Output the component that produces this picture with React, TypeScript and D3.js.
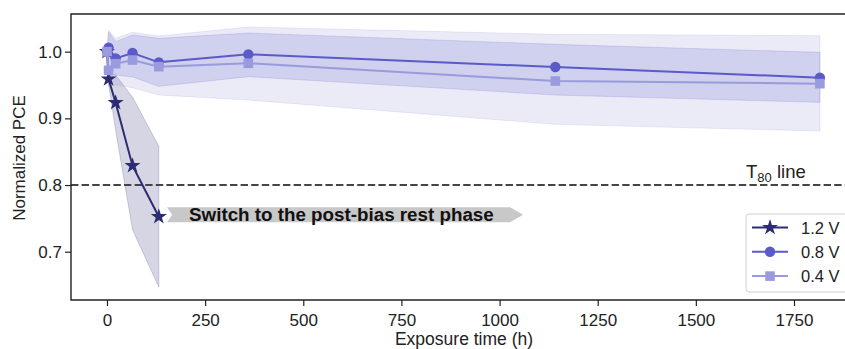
import { useEffect, useRef } from "react"
import * as d3 from "d3"

// exposure time (h) at each measurement
const times = [0, 4, 22, 65, 132, 360, 1142, 1816]
const times12 = [0, 4, 22, 65, 132]

// normalized PCE, mean and band edges
const v12 = [1.0, 0.959, 0.9235, 0.829, 0.7525]
const v12Hi = [1.0, 0.968, 0.965, 0.932, 0.858]
const v12Lo = [1.0, 0.952, 0.882, 0.733, 0.647]

const v08 = [1.0, 1.006, 0.99, 0.998, 0.984, 0.996, 0.977, 0.961]
const v08Hi = [1.0, 1.03, 1.015, 1.025, 1.02, 1.028, 1.011, 0.999]
const v08Lo = [1.0, 0.982, 0.965, 0.962, 0.948, 0.9625, 0.935, 0.924]

const v04 = [1.0, 0.972, 0.982, 0.9875, 0.9775, 0.9826, 0.956, 0.952]
const v04Hi = [1.0, 1.032, 1.02, 1.029, 1.0235, 1.037, 1.026, 1.024]
const v04Lo = [1.0, 0.948, 0.95, 0.946, 0.935, 0.9275, 0.891, 0.881]

const xTicks = [0, 250, 500, 750, 1000, 1250, 1500, 1750]
const yTicks = [0.7, 0.8, 0.9, 1.0]
const t80 = 0.8
const arrowFrom = 153
const arrowTo = 1060
const arrowY = 0.7555
const arrowText = "Switch to the post-bias rest phase"

const C = { v12: "#2c2c74", v08: "#5a5ac8", v04: "#9a9ade" }

export default function App() {
  const ref = useRef<SVGSVGElement>(null)
  useEffect(() => {
    if (!ref.current) return
    const svg = d3.select(ref.current)
    svg.selectAll("*").remove()
    const font = "'Liberation Sans', Arial, sans-serif"

    const x = d3.scaleLinear().domain([-91.7, 1910.5]).range([71, 857])
    const y = d3.scaleLinear().domain([0.6276, 1.0565]).range([300, 14])

    const series = [
      { t: times12, v: v12, hi: v12Hi, lo: v12Lo, c: C.v12, sym: d3.symbolStar, size: 80, label: "1.2 V" },
      { t: times, v: v08, hi: v08Hi, lo: v08Lo, c: C.v08, sym: d3.symbolCircle, size: 85, label: "0.8 V" },
      { t: times, v: v04, hi: v04Hi, lo: v04Lo, c: C.v04, sym: d3.symbolSquare, size: 92, label: "0.4 V" },
    ]

    const clip = svg.append("defs").append("clipPath").attr("id", "pa")
    clip.append("rect").attr("x", 71).attr("y", 14).attr("width", 786).attr("height", 286)
    const plot = svg.append("g").attr("clip-path", "url(#pa)")

    // bands
    series.forEach(s => {
      const pts = s.t.map((t, i) => ({ t, hi: s.hi[i], lo: s.lo[i] }))
      plot.append("path").datum(pts)
        .attr("fill", s.c).attr("fill-opacity", 0.2)
        .attr("stroke", s.c).attr("stroke-opacity", 0.2).attr("stroke-width", 1)
        .attr("d", d3.area<any>().x(d => x(d.t)).y0(d => y(d.lo)).y1(d => y(d.hi)))
    })

    // T80 line
    plot.append("line").attr("x1", 71).attr("x2", 857).attr("y1", y(t80)).attr("y2", y(t80))
      .attr("stroke", "#454545").attr("stroke-width", 2).attr("stroke-dasharray", "7.4,3.2")

    // lines + markers
    series.forEach(s => {
      const pts = s.t.map((t, i) => ({ t, v: s.v[i] }))
      plot.append("path").datum(pts).attr("fill", "none").attr("stroke", s.c).attr("stroke-width", 2)
        .attr("d", d3.line<any>().x(d => x(d.t)).y(d => y(d.v)))
      plot.selectAll(null).data(pts).join("path")
        .attr("transform", d => `translate(${x(d.t)},${y(d.v)})`)
        .attr("d", d3.symbol(s.sym, s.size)).attr("fill", s.c)
    })

    // arrow annotation
    const ay = y(arrowY), ah = 7.5, x0 = x(arrowFrom), x1 = x(arrowTo)
    svg.append("path")
      .attr("d", `M${x0},${ay - ah}L${x1 - 13},${ay - ah}L${x1},${ay}L${x1 - 13},${ay + ah}L${x0},${ay + ah}L${x0 + 5},${ay}Z`)
      .attr("fill", "#c8c8c8")
    svg.append("text").attr("x", x(209)).attr("y", ay + 6).attr("font-family", font)
      .attr("font-weight", "bold").attr("font-size", 18.8).attr("fill", "#111").text(arrowText)

    // T80 label
    const tl = svg.append("text").attr("x", 746).attr("y", y(t80) - 7).attr("font-family", font)
      .attr("font-size", 18.5).attr("fill", "#222")
    tl.append("tspan").text("T")
    tl.append("tspan").attr("font-size", 13).attr("dy", 4).text("80")
    tl.append("tspan").attr("dy", -4).text(" line")

    // axes
    svg.append("g").attr("transform", "translate(0,300)")
      .call(d3.axisBottom(x).tickValues(xTicks).tickSize(6).tickPadding(8).tickFormat(d3.format("d")))
      .call(g => {
        g.select(".domain").remove()
        g.selectAll("line").attr("stroke", "#222").attr("stroke-width", 1.2)
        g.selectAll("text").attr("font-family", font).attr("font-size", 17).attr("fill", "#222")
      })
    svg.append("g").attr("transform", "translate(71,0)")
      .call(d3.axisLeft(y).tickValues(yTicks).tickSize(6).tickPadding(3).tickFormat(d3.format(".1f")))
      .call(g => {
        g.select(".domain").remove()
        g.selectAll("line").attr("stroke", "#222").attr("stroke-width", 1.2)
        g.selectAll("text").attr("font-family", font).attr("font-size", 17).attr("fill", "#222")
      })
    svg.append("path").attr("d", "M857,14H71V300H857").attr("fill", "none").attr("stroke", "#222").attr("stroke-width", 1.4)

    svg.append("text").attr("x", 464).attr("y", 345).attr("text-anchor", "middle")
      .attr("font-family", font).attr("font-size", 17.5).attr("fill", "#222").text("Exposure time (h)")
    svg.append("text").attr("transform", `translate(25,${158}) rotate(-90)`).attr("text-anchor", "middle")
      .attr("font-family", font).attr("font-size", 17).attr("fill", "#222").text("Normalized PCE")

    // legend
    const lg = svg.append("g").attr("transform", "translate(746,214)")
    lg.append("rect").attr("width", 106).attr("height", 78).attr("rx", 3)
      .attr("fill", "white").attr("fill-opacity", 0.8).attr("stroke", "#d0d0d0")
    series.forEach((s, i) => {
      const ry = 13.5 + i * 24.3
      lg.append("line").attr("x1", 6).attr("x2", 42).attr("y1", ry).attr("y2", ry).attr("stroke", s.c).attr("stroke-width", 2)
      lg.append("path").attr("transform", `translate(24,${ry})`).attr("d", d3.symbol(s.sym, s.size)).attr("fill", s.c)
      lg.append("text").attr("x", 55).attr("y", ry + 6).attr("font-family", font).attr("font-size", 16.5)
        .attr("fill", "#222").text(s.label)
    })
  }, [])
  return (
    <div style={{ position: "fixed", left: 0, top: 0 }}>
      <svg ref={ref} width={845} height={349} style={{ display: "block", background: "white" }} />
    </div>
  )
}
